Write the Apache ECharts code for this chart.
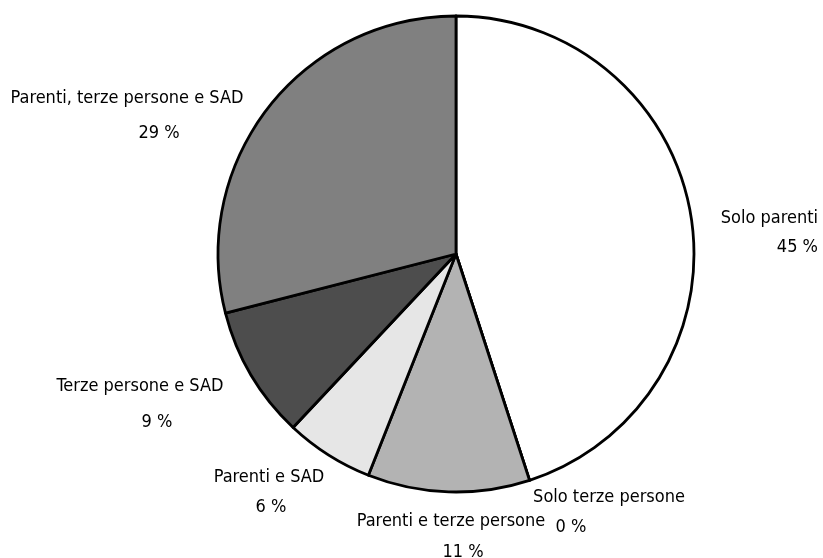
<!DOCTYPE html>
<html>
<head>
<meta charset="utf-8">
<script src="https://cdn.jsdelivr.net/npm/echarts@6/dist/echarts.min.js"></script>
<style>
  html, body { margin: 0; padding: 0; background: #ffffff; }
  #chart { width: 823px; height: 558px; }
</style>
</head>
<body>
<div id="chart"></div>
<script>
// Categories and shares (percent), clockwise from 12 o'clock
const categories = [
  'Solo parenti',
  'Solo terze persone',
  'Parenti e terze persone',
  'Parenti e SAD',
  'Terze persone e SAD',
  'Parenti, terze persone e SAD'
];
const shares = [45, 0, 11, 6, 9, 29];
const fills = ['#ffffff', '#ffffff', '#b3b3b3', '#e6e6e6', '#4d4d4d', '#808080'];

// Label anchors: [x, y, align] for the name line and for the percent line
const nameAnchors = [
  [818, 218, 'right'],
  [609, 497, 'center'],
  [451, 521, 'center'],
  [269, 477, 'center'],
  [140, 386, 'center'],
  [127, 98, 'center']
];
const pctAnchors = [
  [818, 247, 'right'],
  [571, 527, 'center'],
  [463, 552, 'center'],
  [271, 507, 'center'],
  [157, 422, 'center'],
  [159, 133, 'center']
];

const FONT = '"Liberation Sans Narrow", "DejaVu Sans Condensed", "Liberation Sans", sans-serif';

const data = categories.map((name, i) => ({
  name: name,
  value: shares[i],
  itemStyle: { color: fills[i] }
}));

const chart = echarts.init(document.getElementById('chart'), null, { renderer: 'canvas' });

const textStyle = {
  color: '#000000',
  fontFamily: FONT,
  fontSize: 18
};

chart.setOption({
  animation: false,
  backgroundColor: '#ffffff',
  series: [
    {
      type: 'pie',
      center: [456, 254],
      radius: 238,
      startAngle: 90,
      clockwise: true,
      silent: true,
      avoidLabelOverlap: false,
      data: data,
      itemStyle: { borderColor: '#000000', borderWidth: 2.8, borderJoin: 'round' },
      label: Object.assign({ show: true, formatter: '{b}' }, textStyle),
      labelLine: { show: false },
      labelLayout: function (p) {
        const a = nameAnchors[p.dataIndex];
        return { x: a[0], y: a[1], align: a[2], verticalAlign: 'middle', hideOverlap: false };
      },
      emphasis: { disabled: true }
    },
    {
      type: 'pie',
      center: [456, 254],
      radius: 238,
      startAngle: 90,
      clockwise: true,
      silent: true,
      avoidLabelOverlap: false,
      data: categories.map((name, i) => ({ name: name, value: shares[i] })),
      itemStyle: { color: 'rgba(0,0,0,0)', borderWidth: 0 },
      label: Object.assign({
        show: true,
        formatter: function (p) { return p.value + ' %'; }
      }, textStyle),
      labelLine: { show: false },
      labelLayout: function (p) {
        const a = pctAnchors[p.dataIndex];
        return { x: a[0], y: a[1], align: a[2], verticalAlign: 'middle', hideOverlap: false };
      },
      emphasis: { disabled: true }
    }
  ]
});
</script>
</body>
</html>
